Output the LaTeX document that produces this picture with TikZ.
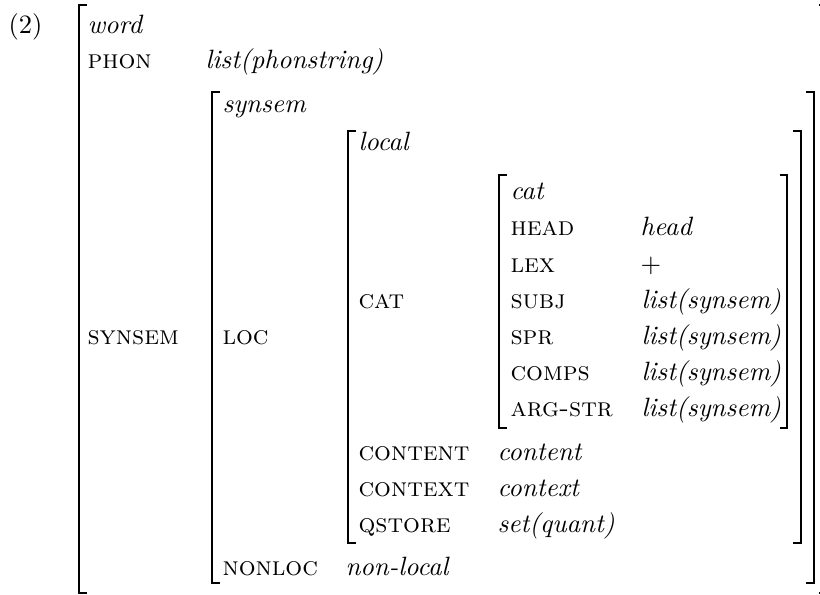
\documentclass[tikz,border=0pt]{standalone}
\begin{document}
\begin{tikzpicture}[x=0.3774pt,y=-0.3774pt]

\tikzset{attr/.style = {anchor=base west,inner sep=0pt,font=\scshape}}
\tikzset{val/.style = {anchor=base west,inner sep=0pt,font=\itshape}}
\tikzset{brak/.style = {line width=0.4pt}}
\useasboundingbox (0,0) rectangle (820,594);
%word level
\node[anchor=base west,inner sep=0pt] (num) at (8,33) {(2)};
\node[val] (word) at (87,33) {word};
\node[attr] (phon) at (87,68) {phon};
\node[val] (phonval) at (205,68) {list(phonstring)};
\node[attr] (synsemattr) at (87,344) {synsem};
%synsem level
\node[val] (synsem) at (222,112) {synsem};
\node[attr] (loc) at (222,344) {loc};
\node[attr] (nonloc) at (222,575) {nonloc};
\node[val] (nonlocval) at (345,575) {non-local};
%local level
\node[val] (local) at (358,150) {local};
\node[attr] (catattr) at (358,308) {cat};
\node[attr] (content) at (358,460) {content};
\node[val] (contentval) at (497,460) {content};
\node[attr] (context) at (358,496) {context};
\node[val] (contextval) at (497,496) {context};
\node[attr] (qstore) at (358,532) {qstore};
\node[val] (qstoreval) at (497,532) {set(quant)};
%cat level
\node[val] (cat) at (510,199) {cat};
\node[attr] (head) at (510,235) {head};
\node[val] (headval) at (640,235) {head};
\node[attr] (lex) at (510,272) {lex};
\node[anchor=base west,inner sep=0pt] (lexval) at (640,272) {$+$};
\node[attr] (subj) at (510,308) {subj};
\node[val] (subjval) at (641,308) {list(synsem)};
\node[attr] (spr) at (510,344) {spr};
\node[val] (sprval) at (641,344) {list(synsem)};
\node[attr] (comps) at (510,380) {comps};
\node[val] (compsval) at (641,380) {list(synsem)};
\node[attr] (argstr) at (510,416) {arg-str};
\node[val] (argstrval) at (641,416) {list(synsem)};
%brackets
\draw[brak] (87,5) -- (79,5) -- (79,593) -- (87,593);
\draw[brak] (819,5) -- (827,5) -- (827,593) -- (819,593);
\draw[brak] (220,92) -- (212,92) -- (212,583) -- (220,583);
\draw[brak] (806,92) -- (814,92) -- (814,583) -- (806,583);
\draw[brak] (356,131) -- (348,131) -- (348,543) -- (356,543);
\draw[brak] (793,131) -- (801,131) -- (801,543) -- (793,543);
\draw[brak] (507,175) -- (499,175) -- (499,428) -- (507,428);
\draw[brak] (780,175) -- (787,175) -- (787,428) -- (780,428);

\end{tikzpicture}
\end{document}
